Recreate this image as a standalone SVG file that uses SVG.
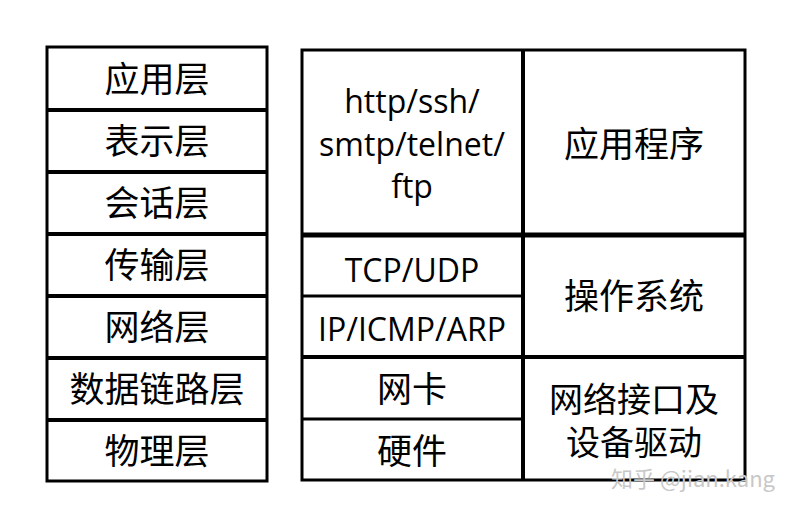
<svg xmlns="http://www.w3.org/2000/svg" width="796" height="512" viewBox="0 0 796 512">
<style>
.c{fill:#fff;stroke:#000;stroke-width:3}
.t{font-family:"Open Sans","Noto Sans CJK SC",sans-serif;font-size:32px;fill:#000;text-anchor:middle}
.z{font-family:"Noto Sans CJK SC",sans-serif;font-size:35px;fill:#000;text-anchor:middle}
.y{font-family:"Noto Sans CJK SC",sans-serif;font-size:34px;fill:#000;text-anchor:middle}
</style>
<rect width="796" height="512" fill="#fff"/>
<g id="osi">
<rect class="c" x="47" y="47" width="220" height="434"/>
<g stroke="#000" stroke-width="4">
<line x1="47" y1="110" x2="267" y2="110"/><line x1="47" y1="172" x2="267" y2="172"/>
<line x1="47" y1="234" x2="267" y2="234"/><line x1="47" y1="296" x2="267" y2="296"/>
<line x1="47" y1="358" x2="267" y2="358"/><line x1="47" y1="420" x2="267" y2="420"/>
</g>
<text class="z" x="157" y="92">应用层</text>
<text class="z" x="157" y="154">表示层</text>
<text class="z" x="157" y="216">会话层</text>
<text class="z" x="157" y="278">传输层</text>
<text class="z" x="157" y="340">网络层</text>
<text class="z" x="157" y="402">数据链路层</text>
<text class="z" x="157" y="464">物理层</text>
</g>
<g id="tcpip">
<rect class="c" x="302" y="50" width="443" height="430" stroke-width="4"/>
<g stroke="#000">
<line x1="523" y1="50" x2="523" y2="480" stroke-width="4"/>
<line x1="302" y1="235" x2="745" y2="235" stroke-width="5"/>
<line x1="302" y1="296" x2="523" y2="296" stroke-width="3"/>
<line x1="302" y1="357" x2="745" y2="357" stroke-width="4"/>
<line x1="302" y1="419" x2="523" y2="419" stroke-width="3"/>
</g>
<text class="t" x="412" y="113">http/ssh/</text>
<text class="t" x="412" y="156">smtp/telnet/</text>
<text class="t" x="412" y="198">ftp</text>
<text class="z" x="634" y="157">应用程序</text>
<text class="t" x="412" y="282">TCP/UDP</text>
<text class="t" x="412" y="341">IP/ICMP/ARP</text>
<text class="z" x="634" y="309">操作系统</text>
<text class="z" x="412" y="402">网卡</text>
<text class="z" x="412" y="464">硬件</text>
<text class="y" x="634" y="412">网络接口及</text>
<text class="y" x="634" y="455">设备驱动</text>
</g>
<text x="775" y="487" font-family="Noto Sans CJK SC,sans-serif" font-size="22" fill="#c8c8c8" text-anchor="end">知乎 @jian.kang</text>
</svg>
